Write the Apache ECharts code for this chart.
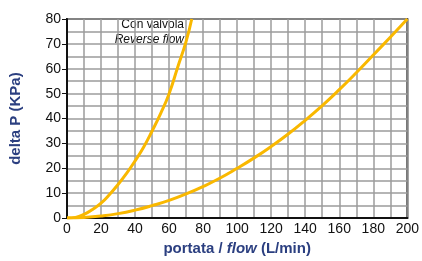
<!doctype html>
<html>
  <head>
    <meta charset="utf-8">
    <script src="https://cdn.jsdelivr.net/npm/echarts@6/dist/echarts.min.js"></script>
  </head>
  <body style="margin:0;background:#fff;">
    <div id="main" style="width:422px;height:261px;"></div>
  </body>
  <script>
   // portata / flow (L/min) vs delta P (KPa)
   var reverseFlow = [0, 5, 10, 15, 20, 25, 30, 35, 40, 45, 50, 55, 60, 65, 70, 73.3];
   var reverseDp   = [0, 0.3, 1.5, 3.5, 6, 9.5, 13.5, 18, 23, 28.5, 35, 42, 50, 60.5, 71, 80];
   var forwardFlow = [0, 10, 20, 30, 40, 50, 60, 70, 80, 90, 100, 110, 120, 130, 140, 150, 160, 170, 180, 190, 200];
   var forwardDp   = [0, 0.25, 0.85, 1.8, 3.2, 5, 7.1, 9.7, 12.7, 16.1, 20, 24.2, 28.8, 33.8, 39.3, 45.2, 51.6, 58.4, 65.5, 72.7, 80];

   function pairs(xs, ys) {
     var out = [];
     for (var i = 0; i < xs.length; i++) out.push([xs[i], ys[i]]);
     return out;
   }

   var chart = echarts.init(document.getElementById('main'));
   var blue = '#2b3f80';
   var gridColor = '#9c9c9c';

   var option = {
     animation: false,
     textStyle: { fontFamily: 'Liberation Sans, Arial, sans-serif' },
     grid: {
       left: 66, right: 12, top: 19, bottom: 39,
       show: true, borderColor: '#3a3a3a', borderWidth: 2
     },
     xAxis: {
       type: 'value',
       min: 0, max: 200, interval: 20,
       name: '{b|portata / }{i|flow}{b| (L/min)}',
       nameLocation: 'middle',
       nameGap: 22,
       nameTextStyle: {
         rich: {
           b: { fontSize: 15, fontWeight: 'bold', color: blue, fontFamily: 'Liberation Sans' },
           i: { fontSize: 15, fontWeight: 'bold', fontStyle: 'italic', color: blue, fontFamily: 'Liberation Sans' }
         }
       },
       axisLine: { lineStyle: { color: '#111', width: 2 } },
       axisTick: { show: false },
       axisLabel: { color: '#111', fontSize: 14, margin: 4 },
       splitLine: { lineStyle: { color: gridColor, width: 1.5 } },
       minorTick: { show: false, splitNumber: 2 },
       minorSplitLine: { show: true, lineStyle: { color: gridColor, width: 1.5 } }
     },
     yAxis: {
       type: 'value',
       min: 0, max: 80, interval: 10,
       name: 'delta P (KPa)',
       nameLocation: 'middle',
       nameGap: 44,
       nameTextStyle: { fontSize: 15, fontWeight: 'bold', color: blue },
       axisLine: { show: true, lineStyle: { color: '#111', width: 2 } },
       axisTick: { show: true, length: 5, lineStyle: { color: '#111' } },
       axisLabel: { color: '#111', fontSize: 14, margin: 6 },
       splitLine: { lineStyle: { color: gridColor, width: 1.5 } },
       minorTick: { show: false, splitNumber: 2 },
       minorSplitLine: { show: true, lineStyle: { color: gridColor, width: 1.5 } }
     },
     graphic: [
       {
         type: 'text', right: 238, top: 19,
         style: { text: 'Con valvola', fill: '#111', font: '12px Liberation Sans', textAlign: 'right' }
       },
       {
         type: 'text', right: 238, top: 34,
         style: { text: 'Reverse flow', fill: '#111', font: 'italic 12px Liberation Sans', textAlign: 'right' }
       }
     ],
     series: [
       {
         name: 'Reverse flow',
         type: 'line',
         smooth: 0.5,
         showSymbol: false,
         lineStyle: { color: '#f9b800', width: 3 },
         data: pairs(reverseFlow, reverseDp)
       },
       {
         name: 'Forward',
         type: 'line',
         smooth: 0.5,
         showSymbol: false,
         lineStyle: { color: '#f9b800', width: 3 },
         data: pairs(forwardFlow, forwardDp)
       }
     ]
   };
   chart.setOption(option);
  </script>
</html>
